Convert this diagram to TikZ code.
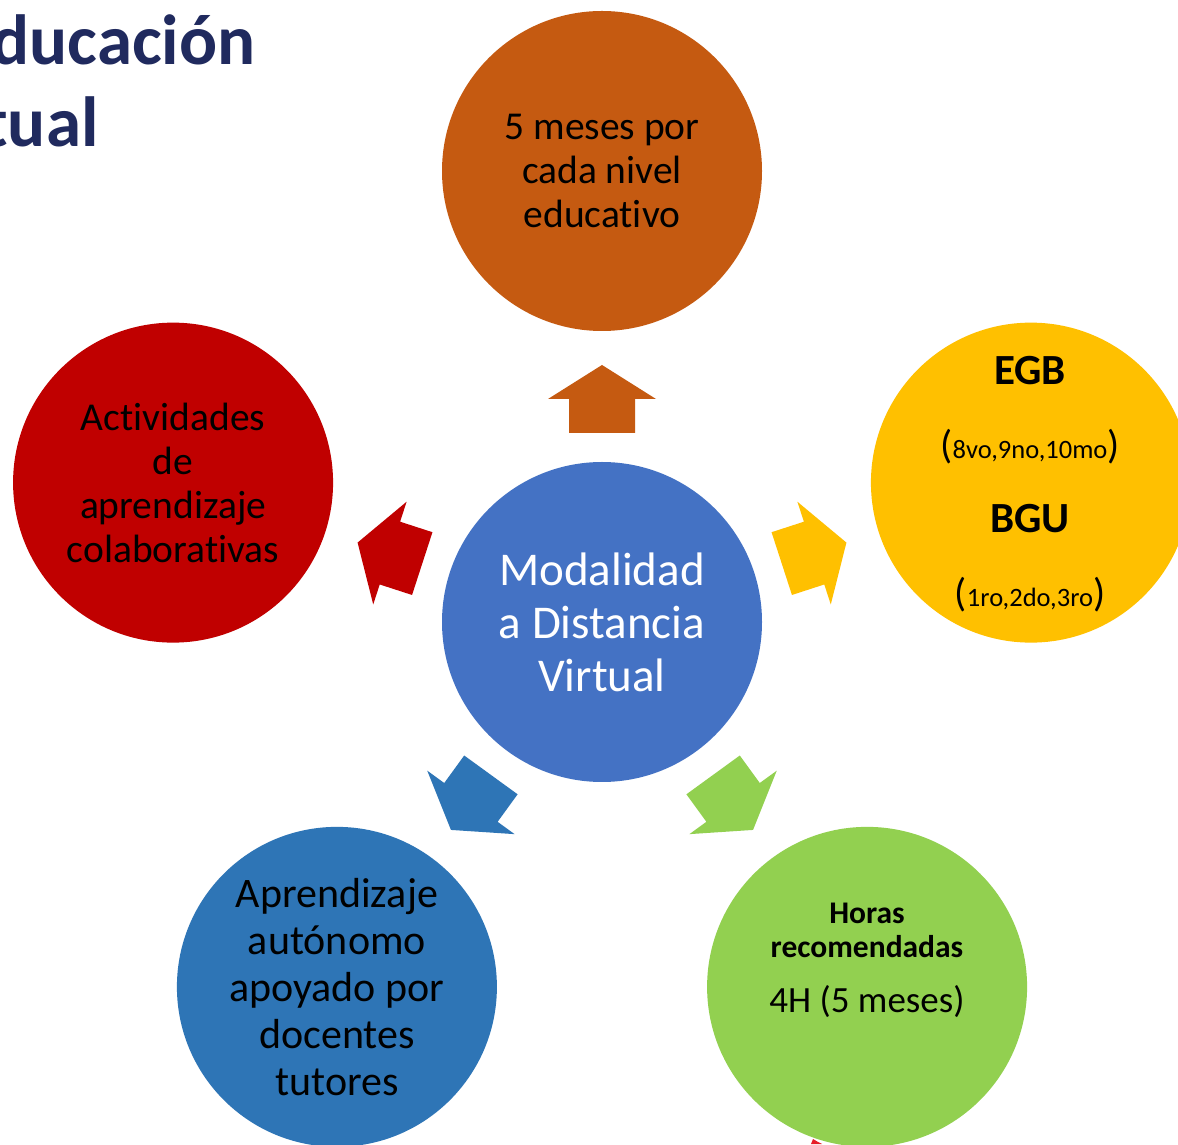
\documentclass[tikz,border=0pt]{standalone}
\usepackage{fontspec}
\usetikzlibrary{calc}
\setmainfont{Carlito}[Ligatures=NoCommon]
\definecolor{cCenter}{RGB}{68,114,196}
\definecolor{cTop}{RGB}{197,90,17}
\definecolor{cRed}{RGB}{192,0,0}
\definecolor{cYellow}{RGB}{255,192,0}
\definecolor{cBlue}{RGB}{46,117,182}
\definecolor{cGreen}{RGB}{146,208,80}
\definecolor{cTitle}{RGB}{32,42,94}
\definecolor{cMark}{RGB}{230,30,40}
\tikzset{
  bubble/.style={circle, minimum size=320pt, inner sep=0pt, align=center},
  titletext/.style={anchor=base east, text=cTitle, font=\fontsize{71}{82}\selectfont\bfseries},
}
\newcommand{\radarrow}[3]{%
  \begin{scope}[shift={(#1.center)}, rotate=#2]
    \fill[#3] (189,-33) -- (223,-33) -- (223,-54) -- (257,0) -- (223,54) -- (223,33) -- (189,33) -- cycle;
  \end{scope}}
\begin{document}
\begin{tikzpicture}[x=1pt,y=1pt]
\useasboundingbox (0,0) rectangle (1178,1144);
\clip (0,0) rectangle (1178,1144);
\fill[white] (0,0) rectangle (1178,1144);
% title
\node[titletext] (t1) at (259,1079) {Educación};
\node[titletext] (t2) at (102,997) {Virtual};
% center
\node[bubble, fill=cCenter, text=white, font=\fontsize{47}{53}\selectfont] (c) at (602,522) {Modalidad\\a Distancia\\Virtual};
% outer circles
\node[bubble, fill=cTop, font=\fontsize{39.5}{44}\selectfont] (top) at ($(c)+(90:451)$) {5 meses por\\cada nivel\\educativo};
\node[bubble, fill=cRed, font=\fontsize{39.5}{44}\selectfont] (red) at ($(c)+(162:451)$) {Actividades\\de\\aprendizaje\\colaborativas};
\node[bubble, fill=cYellow] (yel) at ($(c)+(18:451)$) {};
\node[bubble, fill=cBlue, font=\fontsize{42}{47}\selectfont] (blu) at ($(c)+(234:451)$) {Aprendizaje\\autónomo\\apoyado por\\docentes\\tutores};
\node[bubble, fill=cGreen] (grn) at ($(c)+(306:451)$) {};
% yellow texts
\node[anchor=base, font=\fontsize{43}{50}\selectfont\bfseries] (egb) at (1030,759) {EGB};
\node[anchor=base] (egby) at (1030,685) {{\fontsize{40}{40}\selectfont(}{\fontsize{26.5}{26}\selectfont 8vo,9no,10mo}{\fontsize{40}{40}\selectfont)}};
\node[anchor=base, font=\fontsize{43}{50}\selectfont\bfseries] (bgu) at (1030,611) {BGU};
\node[anchor=base] (bguy) at (1030,537) {{\fontsize{40}{40}\selectfont(}{\fontsize{26.5}{26}\selectfont 1ro,2do,3ro}{\fontsize{40}{40}\selectfont)}};
% green texts
\node[anchor=base, font=\fontsize{31.5}{35}\selectfont\bfseries] (hor) at (867,221) {Horas};
\node[anchor=base, font=\fontsize{31.5}{35}\selectfont\bfseries] (rec) at (867,187) {recomendadas};
\node[anchor=base, font=\fontsize{37}{40}\selectfont] (hrs) at (867,132) {4H (5 meses)};
% arrows
\radarrow{c}{90}{cTop}
\radarrow{c}{18}{cYellow}
\radarrow{c}{162}{cRed}
\radarrow{c}{234}{cBlue}
\radarrow{c}{306}{cGreen}
% small mark at bottom
\fill[cMark] (811,0) -- (813,5) -- (818,2) -- (822,0) -- cycle;
\end{tikzpicture}
\end{document}
